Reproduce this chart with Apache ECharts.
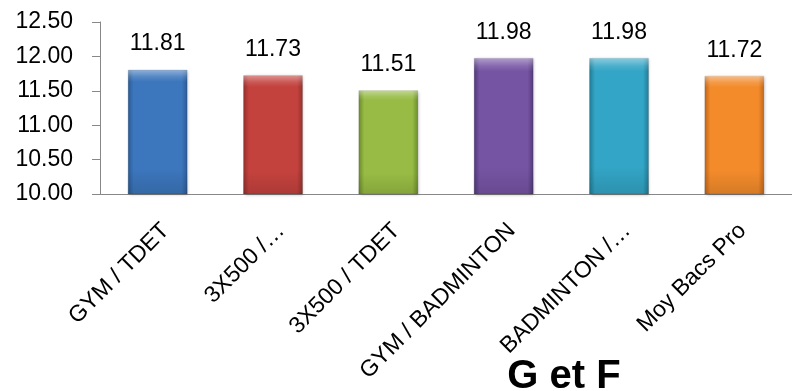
<!DOCTYPE html>
<html><head><meta charset="utf-8">
<script src="https://cdn.jsdelivr.net/npm/echarts@6/dist/echarts.min.js"></script>
<style>html,body{margin:0;padding:0;background:#fff}#c{width:792px;height:391px}</style>
</head><body><div id="c"></div>
<script>
const categories = ['GYM / TDET', '3X500 /…', '3X500 / TDET', 'GYM / BADMINTON', 'BADMINTON /…', 'Moy Bacs Pro'];
const values = [11.81, 11.73, 11.51, 11.98, 11.98, 11.72];
const yTicks = [10, 10.5, 11, 11.5, 12, 12.5];
const titleText = 'G et F';
const palette = [
  ['#2b5a94', '#3c76bc'],
  ['#92302c', '#c4423e'],
  ['#6a8a2c', '#97bb44'],
  ['#503a78', '#7654a4'],
  ['#1d7a93', '#33a5c6'],
  ['#c0651a', '#f38b2b']
];
const chart = echarts.init(document.getElementById('c'));
chart.setOption({
  animation: false,
  title: {
    text: titleText, left: 559, top: 352, textAlign: 'center',
    textStyle: { fontFamily: 'Liberation Sans', fontWeight: 'bold', fontSize: 40, color: '#000' }
  },
  grid: { left: 100, top: 22, width: 700, height: 172 },
  xAxis: {
    type: 'category', data: categories,
    axisLine: { lineStyle: { color: '#888', width: 1 } },
    axisTick: { length: 7, lineStyle: { color: '#888' } },
    axisLabel: { rotate: 45, interval: 0, color: '#000', fontSize: 23, fontFamily: 'Liberation Sans',
      margin: 25, verticalAlign: 'top' }
  },
  yAxis: {
    type: 'value', min: yTicks[0], max: yTicks[yTicks.length - 1], interval: 0.5,
    axisLine: { show: true, lineStyle: { color: '#888' } },
    axisTick: { show: true, length: 8, lineStyle: { color: '#888' } },
    splitLine: { show: false },
    axisLabel: { color: '#000', fontSize: 23, fontFamily: 'Liberation Sans', margin: 27, formatter: v => v.toFixed(2) }
  },
  series: [{
    type: 'bar', barWidth: '52%',
    data: values.map((v, i) => ({
      value: v,
      itemStyle: {
        color: new echarts.graphic.LinearGradient(0, 0, 1, 0, [
          { offset: 0, color: palette[i][0] },
          { offset: 0.1, color: palette[i][1] },
          { offset: 0.9, color: palette[i][1] },
          { offset: 1, color: palette[i][0] }
        ]),
        borderColor: 'rgba(0,0,0,0.12)', borderWidth: 1,
        shadowColor: 'rgba(0,0,0,0.25)', shadowBlur: 3, shadowOffsetX: 1, shadowOffsetY: 1
      }
    })),
    label: {
      show: true, position: 'top', distance: 14, color: '#000', fontSize: 23,
      fontFamily: 'Liberation Sans', formatter: p => p.value.toFixed(2)
    }
  }, {
    type: 'bar', barWidth: '52%', barGap: '-100%', silent: true,
    data: values,
    itemStyle: {
      color: new echarts.graphic.LinearGradient(0, 0, 0, 1, [
        { offset: 0, color: 'rgba(255,255,255,0.45)' },
        { offset: 0.06, color: 'rgba(255,255,255,0.12)' },
        { offset: 0.1, color: 'rgba(255,255,255,0)' },
        { offset: 0.8, color: 'rgba(0,0,0,0)' },
        { offset: 1, color: 'rgba(0,0,0,0.12)' }
      ])
    }
  }]
});
</script></body></html>
